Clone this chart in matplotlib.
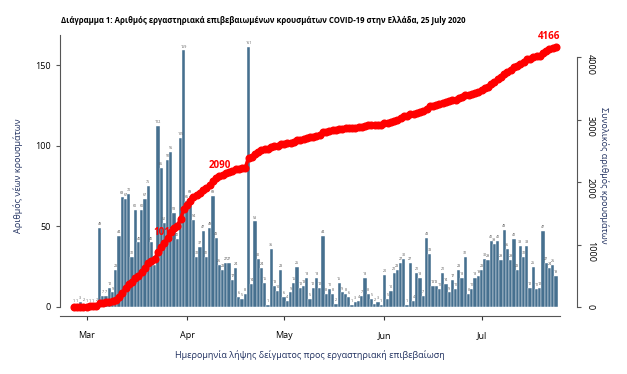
import matplotlib
matplotlib.use('Agg')
import matplotlib.pyplot as plt
import matplotlib.dates as mdates
import numpy as np
import pandas as pd

# daily new lab-confirmed cases, by sampling date
feb = [1, 1, 3, 2]
mar = [1, 1, 1, 2, 49, 7, 7, 12, 9, 23, 44, 68, 67, 70, 31, 60, 40, 60, 67, 75,
       40, 26, 112, 86, 52, 91, 96, 58, 42, 105, 159]
apr = [66, 69, 54, 31, 37, 47, 31, 49, 69, 43, 26, 23, 27, 27, 17, 24, 6, 5, 8, 161,
       14, 53, 30, 24, 15, 1, 36, 13, 10, 23]
may = [6, 4, 9, 15, 25, 12, 13, 18, 5, 12, 18, 12, 44, 8, 11, 8, 2, 15, 9, 8,
       6, 1, 3, 4, 7, 18, 8, 5, 2, 3, 1]
jun = [20, 5, 10, 21, 23, 27, 30, 1, 27, 4, 21, 18, 7, 43, 33, 13, 13, 11, 21, 14,
       9, 17, 11, 23, 18, 31, 8, 11, 18, 19]
jul = [23, 30, 29, 41, 39, 41, 29, 48, 36, 29, 42, 23, 38, 31, 38, 12, 25, 11, 12, 47,
       27, 24, 26, 19]

daily = np.array(feb + mar + apr + may + jun + jul)
dates = pd.date_range('2020-02-26', periods=len(daily), freq='D')
total = np.cumsum(daily)

# dates where the running total is written on the line
note_dates = ['2020-03-25', '2020-04-11']

title = ('Διάγραμμα 1: Αριθμός εργαστηριακά επιβεβαιωμένων κρουσμάτων '
         'COVID-19 στην Ελλάδα, 25 July 2020')

plt.rcParams['font.family'] = ['Open Sans', 'DejaVu Sans']

W, H = 627, 374
fig = plt.figure(figsize=(W / 100, H / 100), dpi=100)
x0, x1, y0, y1 = 60, 560, 316, 35
ax = fig.add_axes([x0 / W, 1 - y0 / H, (x1 - x0) / W, (y0 - y1) / H])
ax2 = ax.twinx()

bar_col = '#46708f'
ax.bar(dates, daily, width=1.0, color=bar_col, edgecolor='white', linewidth=0.3, zorder=2)
for d, v in zip(dates, daily):
    ax.text(d, v + 1.2, str(v), ha='center', va='bottom', fontsize=2.6, color='#555555')

ax2.plot(dates, total, color='red', lw=2.5, marker='o', ms=4.8, zorder=3)
for nd in note_dates:
    i = dates.get_loc(pd.Timestamp(nd))
    ax2.text(dates[i], total[i] + 80, str(total[i]), color='red', fontsize=7,
             fontweight='bold', ha='center', va='bottom')
ax2.text(dates[-1] - pd.Timedelta(days=2), total[-1] + 70, str(total[-1]), color='red',
         fontsize=7, fontweight='bold', ha='center', va='bottom')

ax.set_xlim(pd.Timestamp('2020-02-21 18:00'), pd.Timestamp('2020-07-25 06:00'))
ax.set_ylim(-5.6, 168.6)
ax2.set_ylim(-144, 4352)

ax.set_yticks([0, 50, 100, 150])
ax2.set_yticks([0, 1000, 2000, 3000, 4000])
ax.xaxis.set_major_locator(mdates.MonthLocator(bymonth=[3, 4, 5, 6, 7]))
ax.xaxis.set_major_formatter(mdates.DateFormatter('%b'))

for a in (ax, ax2):
    for s in a.spines.values():
        s.set_visible(False)
ax.spines['bottom'].set_visible(True)
ax.spines['bottom'].set_color('#555555')
ax.spines['left'].set_visible(True)
ax.spines['left'].set_bounds(0, 168.6)
ax.spines['left'].set_color('#555555')
ax2.spines['right'].set_visible(True)
ax2.spines['right'].set_bounds(0, 4000)
ax2.spines['right'].set_color('#555555')
ax2.spines['right'].set_position(('outward', 12))

ax.tick_params(axis='x', labelsize=6.5, length=3, color='#333333', pad=8)
ax.tick_params(axis='y', labelsize=6.5, length=3, color='#555555')
ax2.tick_params(axis='y', labelsize=6.5, length=3, color='#555555', labelrotation=270)

lab_col = '#1f2f5f'
ax.set_xlabel('Ημερομηνία λήψης δείγματος προς εργαστηριακή επιβεβαίωση',
              fontsize=6.5, color=lab_col, labelpad=7)
ax.set_ylabel('Αριθμός νέων κρουσμάτων', fontsize=6.5, color=lab_col, labelpad=9)
ax2.set_ylabel('Συνολικός αριθμός κρουσμάτων', fontsize=6.5, color=lab_col,
               rotation=270, labelpad=10)

fig.text(263 / W, 1 - 20 / H, title, ha='center', va='center', fontsize=5.6,
         fontweight='bold')

fig.savefig('out.png', dpi=100)
